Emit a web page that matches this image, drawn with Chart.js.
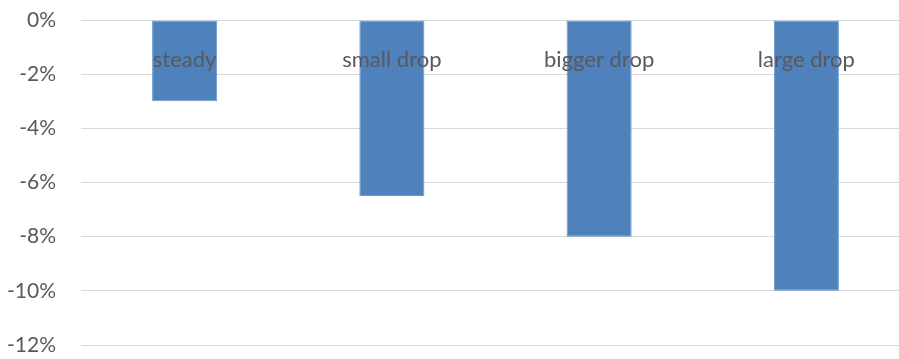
<!DOCTYPE html>
<html>
<head>
<meta charset="utf-8">
<script src="https://cdn.jsdelivr.net/npm/chart.js@4"></script>
<style>
  html, body { margin: 0; padding: 0; background: #fff; overflow: hidden; }
  #wrap { width: 911px; height: 359px; }
</style>
</head>
<body>
<div id="wrap"><canvas id="chart"></canvas></div>
<script>
const categories = ['steady', 'small drop', 'bigger drop', 'large drop'];
const changes = [-3, -6.5, -8, -10];
const yTicks = [0, -2, -4, -6, -8, -10, -12];

const textColor = '#595959';
const fontFamily = 'Lato, "Open Sans", sans-serif';

// category names sit inside the plot, just under the zero line
const inlineLabels = {
  id: 'inlineLabels',
  afterDatasetsDraw(chart) {
    const ctx = chart.ctx;
    const x = chart.scales.x;
    const y = chart.scales.y;
    ctx.save();
    ctx.font = '22px ' + fontFamily;
    ctx.fillStyle = textColor;
    ctx.textAlign = 'center';
    ctx.textBaseline = 'middle';
    categories.forEach((name, i) => {
      ctx.fillText(name, x.getPixelForValue(i), y.getPixelForValue(-1.48));
    });
    ctx.restore();
  }
};

new Chart(document.getElementById('chart'), {
  type: 'bar',
  data: {
    labels: categories,
    datasets: [{
      data: changes,
      backgroundColor: '#4F81BD',
      borderColor: '#6b97cc',
      borderWidth: 1,
      borderSkipped: false,
      barPercentage: 0.314,
      categoryPercentage: 1
    }]
  },
  options: {
    responsive: true,
    maintainAspectRatio: false,
    animation: false,
    layout: { padding: { top: 20, bottom: 14, left: 0, right: 1 } },
    plugins: { legend: { display: false }, tooltip: { enabled: false } },
    scales: {
      x: { display: false },
      y: {
        min: -12,
        max: 0,
        afterFit: (s) => {
          s.width = 81;
          s.paddingTop = 0;
          s.paddingBottom = 0;
        },
        afterBuildTicks: (s) => { s.ticks = yTicks.map(v => ({ value: v })); },
        border: { display: false },
        grid: { color: '#d9d9d9', lineWidth: 1, drawTicks: false },
        ticks: {
          padding: 25,
          color: textColor,
          font: { family: fontFamily, size: 21 },
          callback: (v) => v + '%'
        }
      }
    }
  },
  plugins: [inlineLabels]
});
</script>
</body>
</html>
